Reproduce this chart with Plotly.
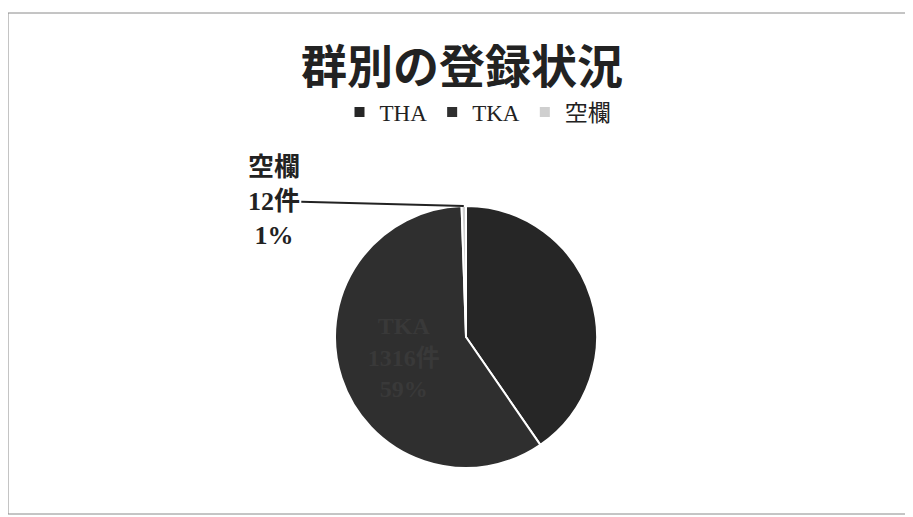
import math
import plotly.graph_objects as go

categories = ["THA", "TKA", "空欄"]
counts = [900, 1316, 12]
slice_colors = ["#262626", "#2f2f2f", "#cfcfcf"]
label_colors = ["#262626", "#393939", "#222222"]

OFF = 8  # browser body margin
W, H = 913 - OFF, 517 - OFF


def px_x(x):
    return (x - OFF) / W


def px_y(y):
    return 1 - (y - OFF) / H


cx_px, cy_px, r_px = 466, 337, 131
dom_x = [px_x(cx_px - r_px), px_x(cx_px + r_px)]
dom_y = [px_y(cy_px + r_px), px_y(cy_px - r_px)]

total = sum(counts)
labels_txt = [f"<b>{c}<br>{n}件<br>{round(n / total * 100)}%</b>" for c, n in zip(categories, counts)]

fig = go.Figure(go.Pie(
    labels=categories,
    values=counts,
    sort=False,
    direction="clockwise",
    rotation=0,
    domain=dict(x=dom_x, y=dom_y),
    marker=dict(colors=slice_colors, line=dict(color="white", width=2)),
    text=[labels_txt[0], labels_txt[1], ""],
    textinfo="text",
    textposition="inside",
    insidetextorientation="horizontal",
    insidetextfont=dict(family="Liberation Serif, Noto Sans CJK JP", size=24, color=label_colors),
    hoverinfo="label+value+percent",
))

# leader label for the small slice: point at the middle of its arc
cum = sum(counts[:2]) + counts[2] / 2
theta = 2 * math.pi * cum / total
head_x = px_x(cx_px + r_px * math.sin(theta))
head_y = px_y(cy_px - r_px * math.cos(theta))

fig.add_annotation(
    x=head_x, y=head_y, xref="paper", yref="paper",
    text=f"<b>{categories[2]}<br>{counts[2]}件<br>{round(counts[2] / total * 100)}%</b>",
    showarrow=True, arrowhead=0, arrowwidth=2, arrowcolor="#222",
    ax=-190, ay=-5, axref="pixel", ayref="pixel",
    font=dict(family="Liberation Serif, Noto Sans CJK JP", size=26, color="#222"),
    align="center",
)

fig.add_shape(type="rect", xref="paper", yref="paper",
              x0=px_x(8), x1=px_x(910), y0=px_y(514), y1=px_y(13),
              line=dict(color="#8a8a8a", width=1))

fig.update_layout(
    width=W, height=H,
    margin=dict(l=0, r=0, t=0, b=0),
    paper_bgcolor="white",
    plot_bgcolor="white",
    title=dict(text="<b>群別の登録状況</b>", x=px_x(462), xanchor="center", y=px_y(67), yanchor="middle",
               font=dict(family="Noto Sans CJK JP", size=46, color="#222")),
    legend=dict(orientation="h", x=px_x(478), xanchor="center", y=px_y(112), yanchor="middle",
                font=dict(family="Liberation Serif, Noto Sans CJK JP", size=23, color="#222"),
                itemwidth=30),
    showlegend=True,
)

fig.write_html("out.html")
